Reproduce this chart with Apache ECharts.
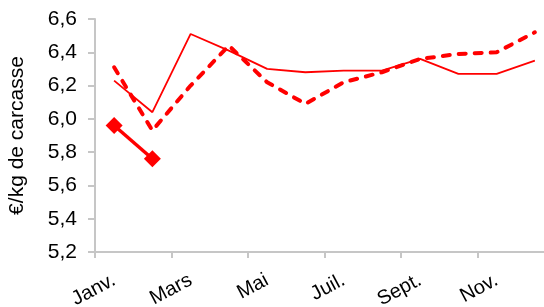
<!DOCTYPE html>
<html>
<head>
    <meta charset="utf-8">
    <title>Prix carcasse</title>
    <script src="https://cdn.jsdelivr.net/npm/echarts@6/dist/echarts.min.js"></script>
</head>
<body style="margin:0;background-color:white">
<div id="main" style="width:544px;height:307px;"></div>
<script type="text/javascript">
    // données
    var mois = ['Janv.', 'Févr.', 'Mars', 'Avr.', 'Mai', 'Juin', 'Juil.', 'Août', 'Sept.', 'Oct.', 'Nov.', 'Déc.'];
    var serieFine = [6.23, 6.04, 6.51, 6.41, 6.30, 6.28, 6.29, 6.29, 6.36, 6.27, 6.27, 6.35];
    var seriePointillee = [6.31, 5.93, 6.20, 6.44, 6.22, 6.09, 6.22, 6.28, 6.36, 6.39, 6.40, 6.52];
    var serieLosanges = [5.96, 5.76];

    var police = '"Liberation Sans", Arial, sans-serif';
    var gris = '#c6c6c6';

    var myChart = echarts.init(document.getElementById('main'));
    myChart.setOption({
        animation: false,
        backgroundColor: '#fff',
        grid: {left: 95, right: -10, top: 19, bottom: 55, outerBoundsMode: 'none', containLabel: false},
        xAxis: {
            type: 'category',
            data: mois,
            boundaryGap: true,
            axisLine: {lineStyle: {color: gris, width: 2}},
            axisTick: {show: true, length: 6, lineStyle: {color: gris, width: 2}},
            axisLabel: {
                interval: 1,
                rotate: 28,
                margin: 27,
                color: '#000',
                fontSize: 20,
                fontFamily: police
            },
            splitLine: {show: false}
        },
        yAxis: {
            type: 'value',
            min: 5.2,
            max: 6.6,
            interval: 0.2,
            name: '€/kg de carcasse',
            nameLocation: 'middle',
            nameGap: 67,
            nameTextStyle: {color: '#000', fontSize: 21, fontFamily: police},
            axisLine: {show: true, lineStyle: {color: gris, width: 2}},
            axisTick: {show: true, length: 7, lineStyle: {color: gris, width: 2}},
            axisLabel: {
                margin: 18,
                color: '#000',
                fontSize: 21,
                fontFamily: police,
                formatter: function (v) { return v.toFixed(1).replace('.', ','); }
            },
            splitLine: {show: false}
        },
        series: [
            {
                type: 'line',
                data: serieFine,
                symbol: 'none',
                lineStyle: {color: '#ff0000', width: 1.8}
            },
            {
                type: 'line',
                data: seriePointillee,
                symbol: 'none',
                lineStyle: {color: '#ff0000', width: 4, type: [7, 9], cap: 'round'}
            },
            {
                type: 'line',
                data: serieLosanges,
                symbol: 'diamond',
                symbolSize: 17,
                itemStyle: {color: '#ff0000'},
                lineStyle: {color: '#ff0000', width: 3.5}
            }
        ]
    });
</script>
</body>
</html>
